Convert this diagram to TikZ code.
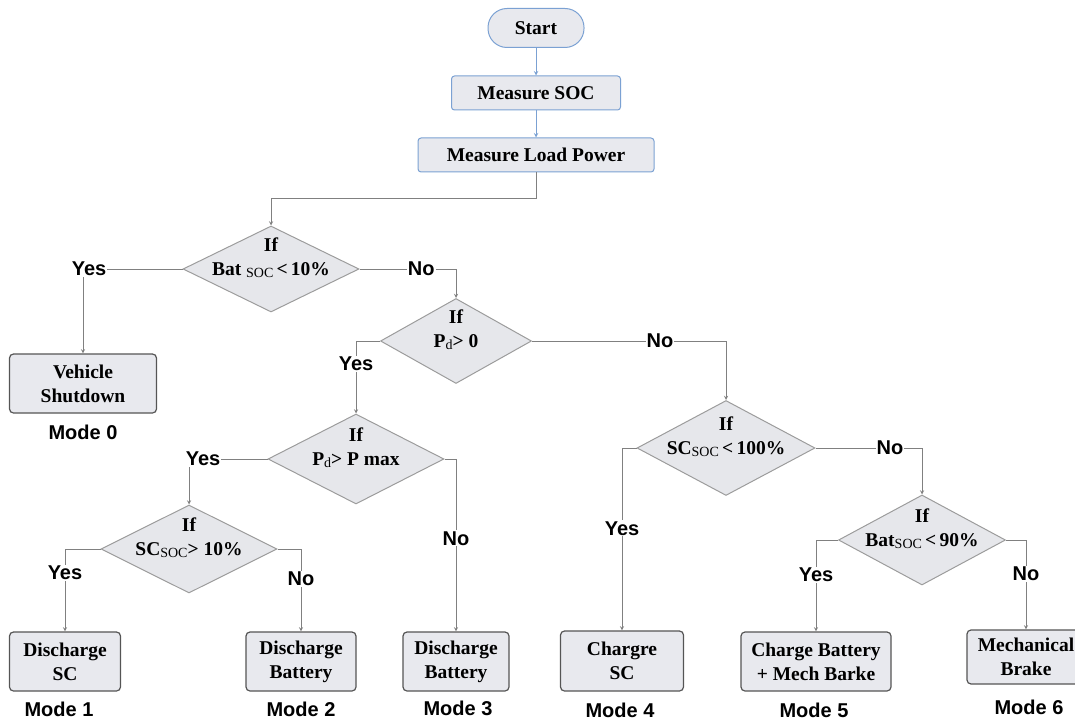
\documentclass[tikz,border=0pt]{standalone}
\usepackage{fontspec}
\setmainfont{Liberation Serif}
\setsansfont{Liberation Sans}
\usepackage{tikz}
\usetikzlibrary{shapes.geometric,arrows,positioning}

\definecolor{boxfill}{HTML}{E8E9EE}
\definecolor{boxline}{HTML}{555555}
\definecolor{startline}{HTML}{7BA1D3}
\definecolor{diafill}{HTML}{E6E7EB}
\definecolor{dialine}{HTML}{9C9C9C}
\definecolor{flowline}{HTML}{808080}

\newcommand{\low}[1]{\raisebox{-2pt}{\fontsize{14}{14}\selectfont\mdseries #1}}
\newcommand{\cond}[1]{\raisebox{5pt}[0pt][0pt]{\makebox[0pt]{\begin{tabular}{@{}c@{}}If\\#1\end{tabular}}}}

\begin{document}
\begin{tikzpicture}[
    x=1pt, y=-1pt,
    start/.style={rectangle, draw=startline, fill=boxfill, line width=1pt, rounded corners=19pt, minimum width=96pt, minimum height=39pt, font=\bfseries\fontsize{19.5}{24}\selectfont},
    measure/.style={rectangle, draw=startline, fill=boxfill, line width=1pt, rounded corners=3pt, minimum height=34pt, font=\bfseries\fontsize{19.5}{24}\selectfont},
    decision/.style={diamond, draw=dialine, fill=diafill, line width=1pt, inner sep=0pt, font=\bfseries\fontsize{19.5}{24}\selectfont},
    mode/.style={rectangle, draw=boxline, fill=boxfill, line width=1.2pt, rounded corners=4pt, inner sep=2pt, align=center, font=\bfseries\fontsize{19.5}{24}\selectfont},
    choice/.style={fill=white, inner sep=1pt, font=\sffamily\bfseries\fontsize{20}{24}\selectfont},
    modename/.style={font=\sffamily\bfseries\fontsize{20}{24}\selectfont},
    arrow/.style={->, >=stealth, draw=flowline, line width=0.9pt},
    bluearrow/.style={->, >=stealth, draw=startline, line width=1pt}
]
    \useasboundingbox (0,0) rectangle (1075,722);

    \node[start] (start) at (536,28) {Start};
    \node[measure, minimum width=169pt] (soc) at (536,93) {Measure SOC};
    \node[measure, minimum width=236pt] (load) at (536,155) {Measure Load Power};

    \node[decision, minimum width=176pt, minimum height=86pt] (bat10) at (271,269) {\cond{Bat \low{SOC}\,<\,10\%}};
    \node[decision, minimum width=151pt, minimum height=85pt] (pd0) at (456,341) {\cond{P\low{d}> 0}};
    \node[decision, minimum width=176pt, minimum height=90pt] (pmax) at (356,459) {\cond{P\low{d}> P max}};
    \node[decision, minimum width=176pt, minimum height=88pt] (sc10) at (189,549) {\cond{SC\low{SOC}> 10\%}};
    \node[decision, minimum width=178pt, minimum height=95pt] (sc100) at (726,448) {\cond{SC\low{SOC}\,<\,100\%}};
    \node[decision, minimum width=167pt, minimum height=90pt] (bat90) at (922,540) {\cond{Bat\low{SOC}\,<\,90\%}};

    \node[mode, minimum width=147pt, minimum height=59pt] (shutdown) at (83,383.5) {Vehicle\\Shutdown};
    \node[mode, minimum width=111pt, minimum height=59pt] (dsc) at (65,661.5) {Discharge\\SC};
    \node[mode, minimum width=110pt, minimum height=59pt] (dbat) at (301,661.5) {Discharge\\Battery};
    \node[mode, minimum width=106pt, minimum height=59pt] (dbatb) at (456,661.5) {Discharge\\Battery};
    \node[mode, minimum width=123pt, minimum height=60pt] (csc) at (622,661) {Chargre\\SC};
    \node[mode, minimum width=150pt, minimum height=59pt] (cbat) at (816,661.5) {Charge Battery\\+ Mech Barke};
    \node[mode, minimum width=118pt, minimum height=54pt] (brake) at (1026,657) {Mechanical\\Brake};

    \node[modename, below=8pt of shutdown] (mode0) {Mode 0};
    \node[modename, below=7pt of dsc, xshift=-6pt] (mode1) {Mode 1};
    \node[modename, below=7pt of dbat] (mode2) {Mode 2};
    \node[modename, below=6pt of dbatb, xshift=2pt] (mode3) {Mode 3};
    \node[modename, below=8pt of csc, xshift=-2pt] (mode4) {Mode 4};
    \node[modename, below=8pt of cbat, xshift=-2pt] (mode5) {Mode 5};
    \node[modename, below=12pt of brake, xshift=3pt] (mode6) {Mode 6};

    \draw[bluearrow] (start) -- (soc);
    \draw[bluearrow] (soc) -- (load);
    \draw[arrow] (load.south) -- ++(0,26) -| (bat10.north);

    \draw[arrow] (bat10.west) -| node[choice, pos=0.5, xshift=6pt] (yes0) {Yes} (shutdown.north);
    \draw[arrow] (bat10.east) -| node[choice, pos=0.32] (no0) {No} (pd0.north);
    \draw[arrow] (pd0.west) -| node[choice, pos=0.66] (yes1) {Yes} (pmax.north);
    \draw[arrow] (pd0.east) -| node[choice, pos=0.33] (no1) {No} (sc100.north);
    \draw[arrow] (pmax.west) -| node[choice, pos=0.5, xshift=14pt] (yes2) {Yes} (sc10.north);
    \draw[arrow] (pmax.east) -| node[choice, pos=0.73] (no2) {No} (dbatb.north);
    \draw[arrow] (sc10.west) -| node[choice, pos=0.645] (yes3) {Yes} (dsc.north);
    \draw[arrow] (sc10.east) -| node[choice, pos=0.68] (no3) {No} (dbat.north);
    \draw[arrow] (sc100.west) -| node[choice, pos=0.72] (yes4) {Yes} (csc.north);
    \draw[arrow] (sc100.east) -| node[choice, pos=0.35] (no4) {No} (bat90.north);
    \draw[arrow] (bat90.west) -| node[choice, pos=0.69] (yes5) {Yes} (cbat.north);
    \draw[arrow] (bat90.east) -| node[choice, pos=0.69] (no5) {No} (brake.north);
\end{tikzpicture}
\end{document}
